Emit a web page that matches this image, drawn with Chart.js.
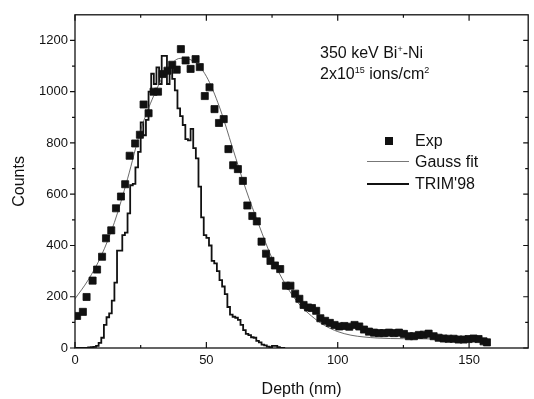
<!DOCTYPE html>
<html><head><meta charset="utf-8">
<script src="https://cdn.jsdelivr.net/npm/chart.js@4/dist/chart.umd.min.js"></script>
<style>
html,body{margin:0;padding:0;background:#fff;}
#wrap{position:relative;width:534px;height:399px;overflow:hidden;}
canvas{display:block;}
.t{position:absolute;font-family:'Liberation Sans',Arial,sans-serif;font-size:16px;color:#111;white-space:nowrap;line-height:16px;}
.t sup{font-size:9px;line-height:0;vertical-align:6px;}
.sq{position:absolute;width:8px;height:8px;background:#111;}
.ln{position:absolute;height:0;}
</style></head><body>
<div id="wrap">
<canvas id="c" width="534" height="399"></canvas>
<div class="t" style="left:320px;top:45px">350 keV Bi<sup>+</sup>-Ni</div>
<div class="t" style="left:320px;top:66px">2x10<sup>15</sup> ions/cm<sup>2</sup></div>
<div class="sq" style="left:385px;top:137px"></div>
<div class="t" style="left:415px;top:133px">Exp</div>
<div class="ln" style="left:367px;top:161px;width:42px;border-top:1px solid #777"></div>
<div class="t" style="left:415px;top:154px">Gauss fit</div>
<div class="ln" style="left:367px;top:183px;width:42px;border-top:2px solid #111"></div>
<div class="t" style="left:415px;top:176px">TRIM'98</div>
</div>
<script>
// ---- data ----
const expDepth = [0.8,3.0,4.4,6.7,8.4,10.3,11.8,13.8,15.6,17.5,19.1,20.8,22.9,24.7,26.1,28.0,29.9,31.6,33.4,35.2,37.0,38.7,40.3,42.1,44.0,45.9,47.5,49.4,51.2,53.1,54.8,56.6,58.4,60.2,62.0,63.9,65.6,67.5,69.2,71.0,72.7,74.4,76.1,78.1,80.3,82.0,83.8,85.4,87.0,88.7,90.2,91.8,93.4,95.2,97.0,98.8,100.6,102.5,104.4,106.4,108.2,110.0,111.9,113.8,115.7,117.6,119.5,121.4,123.3,125.2,127.1,129.0,130.9,132.7,134.6,136.5,138.4,140.3,142.2,144.1,146.0,147.9,149.8,151.7,153.6,155.5,156.8];
const expCounts = [125,141,199,263,306,356,428,459,545,591,639,750,798,832,950,916,1000,1000,1069,1082,1105,1086,1166,1122,1089,1127,1096,983,1017,932,878,893,776,713,698,652,556,515,494,415,368,340,322,308,243,243,212,192,168,158,156,145,116,106,98,90,84,86,83,90,84,72,64,60,58,58,60,58,60,55,46,46,51,52,56,46,40,37,36,36,33,33,35,37,35,26,22];
const gaussDepth = [0,5,10,15,20,25,30,35,40,45,50,55,60,65,70,75,80,85,90,95,100,105,110,115,120,130,140,150,157];
const gaussCounts = [192,265,360,490,660,850,985,1085,1130,1120,1060,940,780,620,480,350,250,175,125,88,64,50,43,39,37,36,35,35,35];
const trimDepth = [0,1,2,3,4,5,6,7,8,9,10,11,12,13,14,15,16,17,18,19,20,21,22,23,24,25,26,27,28,29,30,31,32,33,34,35,36,37,38,39,40,41,42,43,44,45,46,47,48,49,50,51,52,53,54,55,56,57,58,59,60,61,62,63,64,65,66,67,68,69,70,71,72,73,74,75,76,77,78,79,80];
const trimCounts = [0,0,0,0,0,0,2,3,4,8,20,40,90,120,135,185,255,380,380,440,450,525,635,640,705,765,880,830,890,1000,1070,1030,1095,1030,1140,1140,1030,1095,1050,1005,935,905,870,815,810,855,780,740,630,510,440,430,400,340,330,300,265,240,210,160,130,122,118,110,90,70,55,50,42,40,28,22,13,10,5,3,8,8,3,0,0];
const xTickLabels = [0,50,100,150];
const xMinorTicks = [25,75,125];
const yTickLabels = [0,200,400,600,800,1000,1200];
const yMinorTicks = [100,300,500,700,900,1100];

const pts = (xs, ys) => xs.map((v,i)=>({x:v,y:ys[i]}));

const frame = {
  id:'frame',
  afterDraw(chart){
    const {ctx, chartArea:a, scales:{x,y}} = chart;
    ctx.save();
    ctx.strokeStyle='#111';
    ctx.lineWidth=1.3;
    ctx.strokeRect(a.left, a.top, a.right-a.left, a.bottom-a.top);
    ctx.lineWidth=1.2;
    ctx.beginPath();
    const xt = (v,L)=>{const p=x.getPixelForValue(v); ctx.moveTo(p,a.bottom); ctx.lineTo(p,a.bottom-L); ctx.moveTo(p,a.top); ctx.lineTo(p,a.top+L);};
    const yt = (v,L)=>{const p=y.getPixelForValue(v); ctx.moveTo(a.left-L,p); ctx.lineTo(a.left,p); ctx.moveTo(a.right,p); ctx.lineTo(a.right-L,p);};
    xTickLabels.forEach(v=>xt(v,6)); xMinorTicks.forEach(v=>xt(v,3));
    yTickLabels.forEach(v=>yt(v,5)); yMinorTicks.forEach(v=>yt(v,3));
    ctx.stroke();
    ctx.restore();
  }
};

const font = "'Liberation Sans', Arial, sans-serif";
new Chart(document.getElementById('c'), {
  type:'scatter',
  data:{datasets:[
    {label:'Exp', data:pts(expDepth,expCounts), showLine:false, pointStyle:'rect', pointRadius:5, pointBorderWidth:0.8, backgroundColor:'#111', borderColor:'#111'},
    {label:'Gauss fit', data:pts(gaussDepth,gaussCounts), showLine:true, pointRadius:0, borderColor:'#444', borderWidth:0.8, cubicInterpolationMode:'monotone'},
    {label:"TRIM'98", data:pts(trimDepth,trimCounts), showLine:true, pointRadius:0, borderColor:'#111', borderWidth:1.8, stepped:'after'}
  ]},
  options:{
    responsive:false, animation:false,
    layout:{padding:{top:10,right:4,left:0,bottom:0}},
    plugins:{legend:{display:false}, tooltip:{enabled:false}},
    scales:{
      x:{type:'linear', min:0, max:172.5,
        grid:{display:false, drawTicks:false}, border:{display:false},
        afterBuildTicks(s){ s.ticks = xTickLabels.map(v=>({value:v})); },
        afterFit(s){ s.height = 51; },
        ticks:{color:'#111', font:{family:font,size:13}, padding:5, maxRotation:0, callback:v=>String(v)},
        title:{display:true, text:'Depth (nm)', color:'#111', font:{family:font,size:16}, padding:{top:1.5,bottom:0}}
      },
      y:{type:'linear', min:0, max:1300,
        grid:{display:false, drawTicks:false}, border:{display:false},
        afterBuildTicks(s){ s.ticks = yTickLabels.map(v=>({value:v})); },
        afterFit(s){ s.width = 75; },
        ticks:{color:'#111', font:{family:font,size:13}, padding:7, callback:v=>String(v)},
        title:{display:true, text:'Counts', color:'#111', font:{family:font,size:16}, padding:{top:10,bottom:0}}
      }
    }
  },
  plugins:[frame]
});
</script>
</body></html>
